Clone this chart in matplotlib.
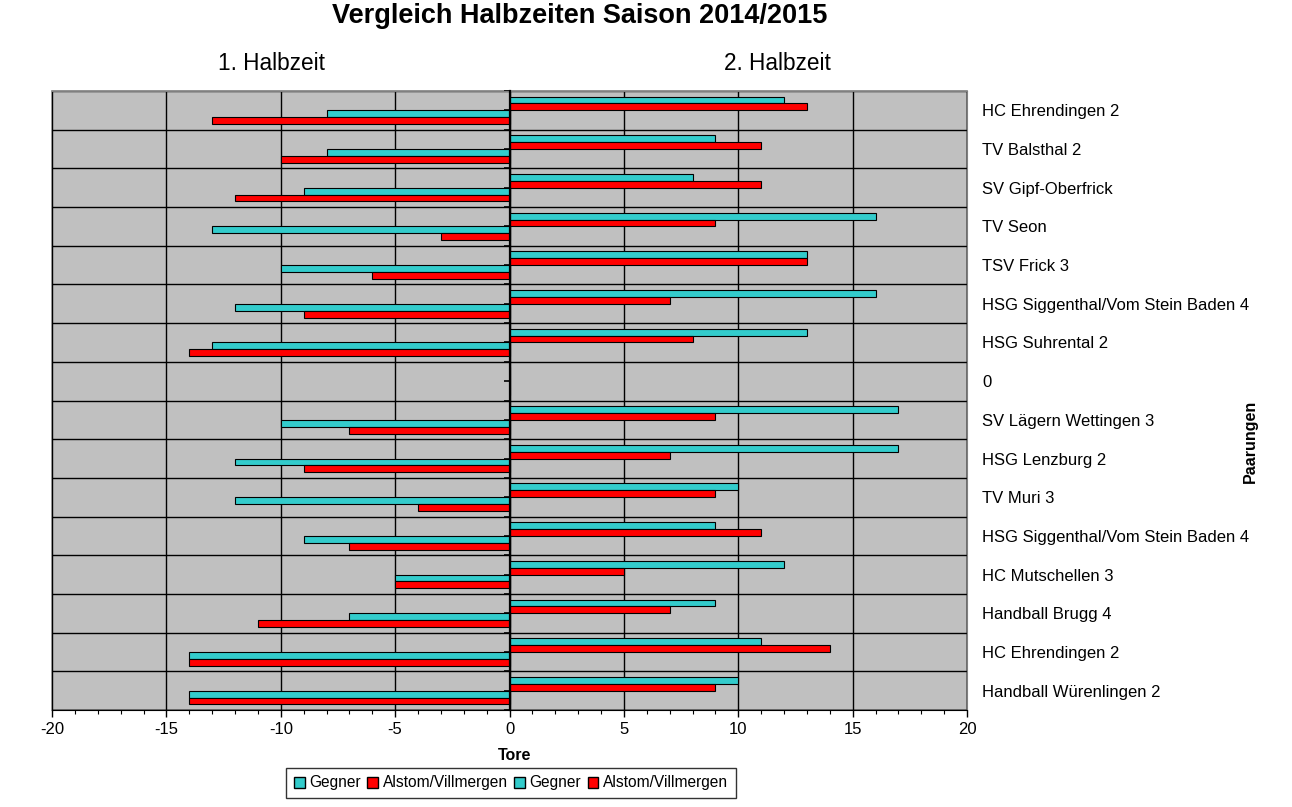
import numpy as np
import matplotlib
matplotlib.use('Agg')
import matplotlib.pyplot as plt
from matplotlib.ticker import MultipleLocator
from matplotlib.patches import Patch

plt.rcParams['font.family'] = ['Liberation Sans', 'DejaVu Sans']
plt.rcParams['axes.unicode_minus'] = False

# Paarungen (top to bottom)
teams = ['HC Ehrendingen 2', 'TV Balsthal 2', 'SV Gipf-Oberfrick', 'TV Seon', 'TSV Frick 3',
         'HSG Siggenthal/Vom Stein Baden 4', 'HSG Suhrental 2', '0', 'SV Lägern Wettingen 3',
         'HSG Lenzburg 2', 'TV Muri 3', 'HSG Siggenthal/Vom Stein Baden 4', 'HC Mutschellen 3',
         'Handball Brugg 4', 'HC Ehrendingen 2', 'Handball Würenlingen 2']

# 1. Halbzeit (plotted negative)
gegner_h1 = [-8, -8, -9, -13, -10, -12, -13, 0, -10, -12, -12, -9, -5, -7, -14, -14]
alstom_h1 = [-13, -10, -12, -3, -6, -9, -14, 0, -7, -9, -4, -7, -5, -11, -14, -14]
# 2. Halbzeit
gegner_h2 = [12, 9, 8, 16, 13, 16, 13, 0, 17, 17, 10, 9, 12, 9, 11, 10]
alstom_h2 = [13, 11, 11, 9, 13, 7, 8, 0, 9, 7, 9, 11, 5, 7, 14, 9]

teal = '#33CCCC'
red = '#FF0000'

fig = plt.figure(figsize=(12.92, 8.07), dpi=100)
ax = fig.add_axes([52 / 1292, 97 / 807, 915 / 1292, 619 / 807])
ax.set_facecolor('#C0C0C0')

y = np.arange(len(teams))
h = 0.178
kw = dict(height=h, edgecolor='black', linewidth=0.8, zorder=3)
ax.barh(y - 1.5 * h, gegner_h2, color=teal, **kw)
ax.barh(y - 0.5 * h, alstom_h2, color=red, **kw)
ax.barh(y + 0.5 * h, gegner_h1, color=teal, **kw)
ax.barh(y + 1.5 * h, alstom_h1, color=red, **kw)

ax.set_xlim(-20, 20)
ax.set_ylim(len(teams) - 0.5, -0.5)
ax.xaxis.set_major_locator(MultipleLocator(5))
ax.xaxis.set_minor_locator(MultipleLocator(1))
ax.tick_params(axis='x', which='major', length=5, width=1, labelsize=12, pad=4)
ax.tick_params(axis='x', which='minor', length=3, width=0.8)

ax.set_yticks(y)
ax.set_yticklabels(teams)
ax.set_yticks(np.arange(len(teams) + 1) - 0.5, minor=True)
ax.tick_params(axis='y', which='both', left=True, right=False, labelleft=False,
               labelright=True, direction='out', length=4, width=1.2, labelsize=12, pad=7)

ax.grid(axis='x', which='major', color='black', linewidth=1, zorder=1)
ax.grid(axis='y', which='minor', color='black', linewidth=1, zorder=1)
ax.set_axisbelow(True)

ax.spines['left'].set_position(('data', 0))
ax.spines['left'].set_linewidth(1.6)
ax.spines['left'].set_zorder(4)
ax.spines['top'].set_color('gray')
ax.spines['right'].set_color('gray')
ax.spines['bottom'].set_color('black')
ax.patch.set_edgecolor('gray')
ax.patch.set_linewidth(1.2)

fig.text(580 / 1292, 1 - 16 / 807, 'Vergleich Halbzeiten Saison 2014/2015',
         ha='center', va='center', fontsize=19.5, fontweight='bold')
fig.text(271 / 1292, 1 - 64 / 807, '1. Halbzeit', ha='center', va='center', fontsize=16.3)
fig.text(777 / 1292, 1 - 64 / 807, '2. Halbzeit', ha='center', va='center', fontsize=16.3)
fig.text(515 / 1292, 1 - 755 / 807, 'Tore', ha='center', va='center', fontsize=11.5, fontweight='bold')
fig.text(1250 / 1292, 1 - 441 / 807, 'Paarungen', ha='center', va='center', fontsize=11.5,
         fontweight='bold', rotation=90)

handles = [Patch(facecolor=teal, edgecolor='black', label='Gegner'),
           Patch(facecolor=red, edgecolor='black', label='Alstom/Villmergen'),
           Patch(facecolor=teal, edgecolor='black', label='Gegner'),
           Patch(facecolor=red, edgecolor='black', label='Alstom/Villmergen')]
leg = fig.legend(handles=handles, loc='center', bbox_to_anchor=(511 / 1292, 1 - 783 / 807),
                 ncol=4, fontsize=11.2, frameon=True, fancybox=False, handlelength=0.7,
                 handleheight=0.7, handletextpad=0.3, columnspacing=0.4, borderpad=0.5)
leg.get_frame().set_edgecolor('black')
leg.get_frame().set_linewidth(1)

fig.savefig('out.png', dpi=100)
